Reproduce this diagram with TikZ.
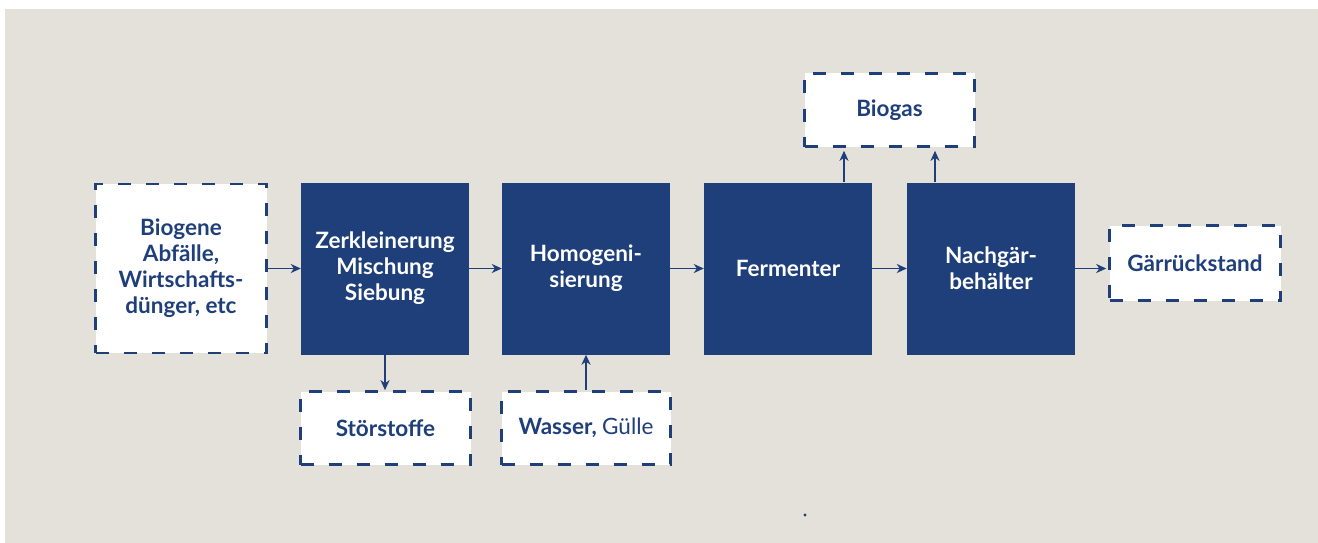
\documentclass[tikz,border=0pt]{standalone}
\usepackage{fontspec}
\setmainfont{Lato}
\usetikzlibrary{arrows.meta,calc}
\definecolor{bgc}{HTML}{E4E0DA}
\definecolor{navy}{HTML}{1F3F7B}
\begin{document}
\begin{tikzpicture}[x=1pt,y=-1pt,
  txt/.style={font=\fontsize{22.5}{26}\selectfont\bfseries, align=center, inner sep=0pt},
  proc/.style={txt, fill=navy, text=white, minimum width=168pt, minimum height=172pt},
  ext/.style={txt, fill=white, draw=navy, text=navy, line width=2.6pt, dash pattern=on 13pt off 15pt},
  arr/.style={draw=navy, line width=1.5pt, -{Stealth[length=10pt,width=9pt,inset=3pt]}}]
\useasboundingbox (0,0) rectangle (1318,543);
\fill[bgc] (5,9) rectangle (1318,543);
\node[ext, minimum width=171pt, minimum height=169pt] (bio) at (181,268.5) {Biogene\\Abfälle,\\Wirtschafts-\\dünger, etc};
\node[proc] (zerk) at (385,268.5) {Zerkleinerung\\Mischung\\Siebung};
\node[proc] (homo) at (586,268.5) {Homogeni-\\sierung};
\node[proc] (ferm) at (788,268.5) {Fermenter};
\node[proc] (nach) at (991,268.5) {Nachgär-\\behälter};
\node[ext, minimum width=171pt, minimum height=75pt] (gaer) at (1195,263) {Gärrückstand};
\node[ext, minimum width=170pt, minimum height=73pt] (biogas) at (889.5,110) {Biogas};
\node[ext, minimum width=170pt, minimum height=73pt] (stoer) at (385.5,428) {Störstoffe};
\node[ext, minimum width=169pt, minimum height=73pt] (wasser) at (586,428) {Wasser, \mdseries Gülle};
\draw[arr] (bio.east) -- (zerk.west);
\draw[arr] (zerk.east) -- (homo.west);
\draw[arr] (homo.east) -- (ferm.west);
\draw[arr] (ferm.east) -- (nach.west);
\draw[arr, shorten >=2pt] (nach.east) -- (nach.east -| gaer.west);
\draw[arr] (zerk.south) -- (zerk.south |- stoer.north);
\draw[arr] (wasser.north) -- (wasser.north |- homo.south);
\draw[arr, shorten >=3pt] ([xshift=56pt]ferm.north) -- ([xshift=56pt]ferm.north |- biogas.south);
\draw[arr, shorten >=3pt] ([xshift=-56pt]nach.north) -- ([xshift=-56pt]nach.north |- biogas.south);
\fill[navy] (805,515) circle (1.6pt);
\end{tikzpicture}
\end{document}
